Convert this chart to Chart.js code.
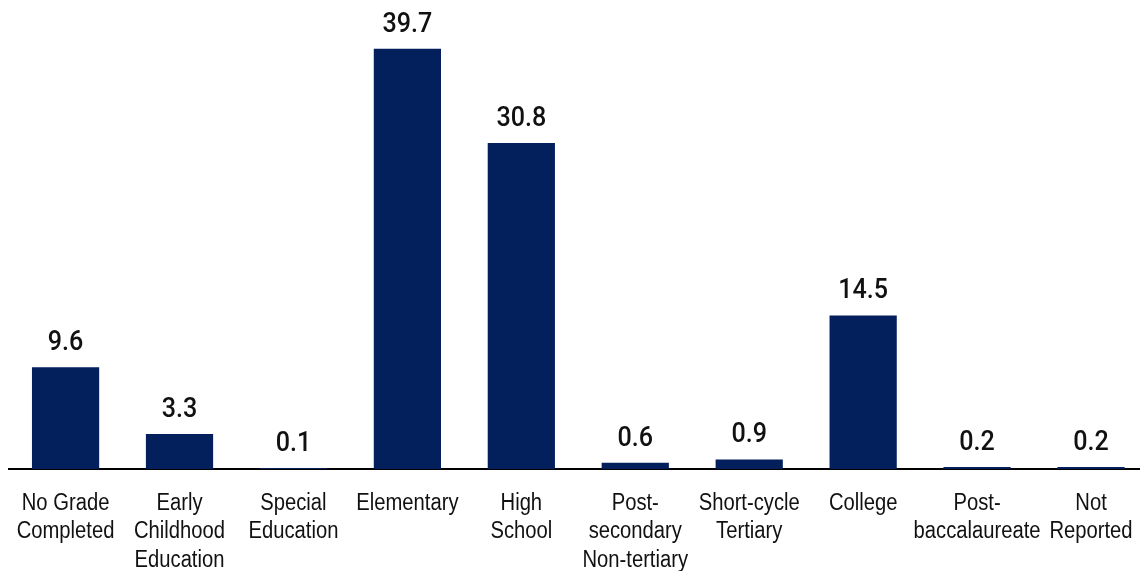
<!DOCTYPE html>
<html>
<head>
<meta charset="utf-8">
<script src="https://cdn.jsdelivr.net/npm/chart.js@4.4.1/dist/chart.umd.min.js"></script>
<style>
  html, body { margin: 0; padding: 0; background: #fff; overflow: hidden; }
  #wrap { position: relative; width: 1148px; height: 571px; }
</style>
</head>
<body>
<div id="wrap"><canvas id="c"></canvas></div>
<script>
const categories = [
  ["No Grade", "Completed"],
  ["Early", "Childhood", "Education"],
  ["Special", "Education"],
  ["Elementary"],
  ["High", "School"],
  ["Post-", "secondary", "Non-tertiary"],
  ["Short-cycle", "Tertiary"],
  ["College"],
  ["Post-", "baccalaureate"],
  ["Not", "Reported"]
];
const values = [9.6, 3.3, 0.1, 39.7, 30.8, 0.6, 0.9, 14.5, 0.2, 0.2];
const barColor = "#031f5c";

// Value labels above bars (condensed look via horizontal scale)
const valueLabels = {
  id: "valueLabels",
  afterDatasetsDraw(chart) {
    const ctx = chart.ctx;
    const meta = chart.getDatasetMeta(0);
    meta.data.forEach((bar, i) => {
      ctx.save();
      ctx.translate(bar.x, bar.y - 17);
      ctx.scale(0.93, 1);
      ctx.font = "500 27px Roboto";
      ctx.fillStyle = "#111";
      ctx.textAlign = "center";
      ctx.textBaseline = "alphabetic";
      ctx.fillText(values[i].toFixed(1), 0, 0);
      ctx.restore();
    });
  }
};

// Category labels drawn with a narrow look, positioned by the x scale
const categoryLabels = {
  id: "categoryLabels",
  afterDraw(chart) {
    const ctx = chart.ctx;
    const xs = chart.scales.x;
    const top = xs.top;
    categories.forEach((lines, i) => {
      const x = xs.getPixelForValue(i);
      lines.forEach((line, j) => {
        ctx.save();
        ctx.translate(x, top + 41 + j * 28.3);
        ctx.scale(0.86, 1);
        ctx.font = "23.5px 'Liberation Sans', Arial, sans-serif";
        ctx.fillStyle = "#111";
        ctx.textAlign = "center";
        ctx.textBaseline = "alphabetic";
        ctx.fillText(line, 0, 0);
        ctx.restore();
      });
    });
  }
};

new Chart(document.getElementById("c"), {
  type: "bar",
  data: {
    labels: categories,
    datasets: [{
      data: values,
      backgroundColor: barColor,
      borderWidth: 0,
      barPercentage: 0.59,
      categoryPercentage: 1.0
    }]
  },
  options: {
    responsive: true,
    maintainAspectRatio: false,
    animation: false,
    layout: { padding: { left: 8.6, right: 0, top: 0, bottom: 0 } },
    plugins: { legend: { display: false }, tooltip: { enabled: false } },
    scales: {
      y: { display: false, min: 0, max: 44.3 },
      x: {
        afterFit: (scale) => { scale.height = 102; },
        grid: { display: false, drawTicks: false },
        border: { display: true, color: "#000", width: 2 },
        ticks: { display: false, autoSkip: false, maxRotation: 0 }
      }
    }
  },
  plugins: [valueLabels, categoryLabels]
});
</script>
</body>
</html>
